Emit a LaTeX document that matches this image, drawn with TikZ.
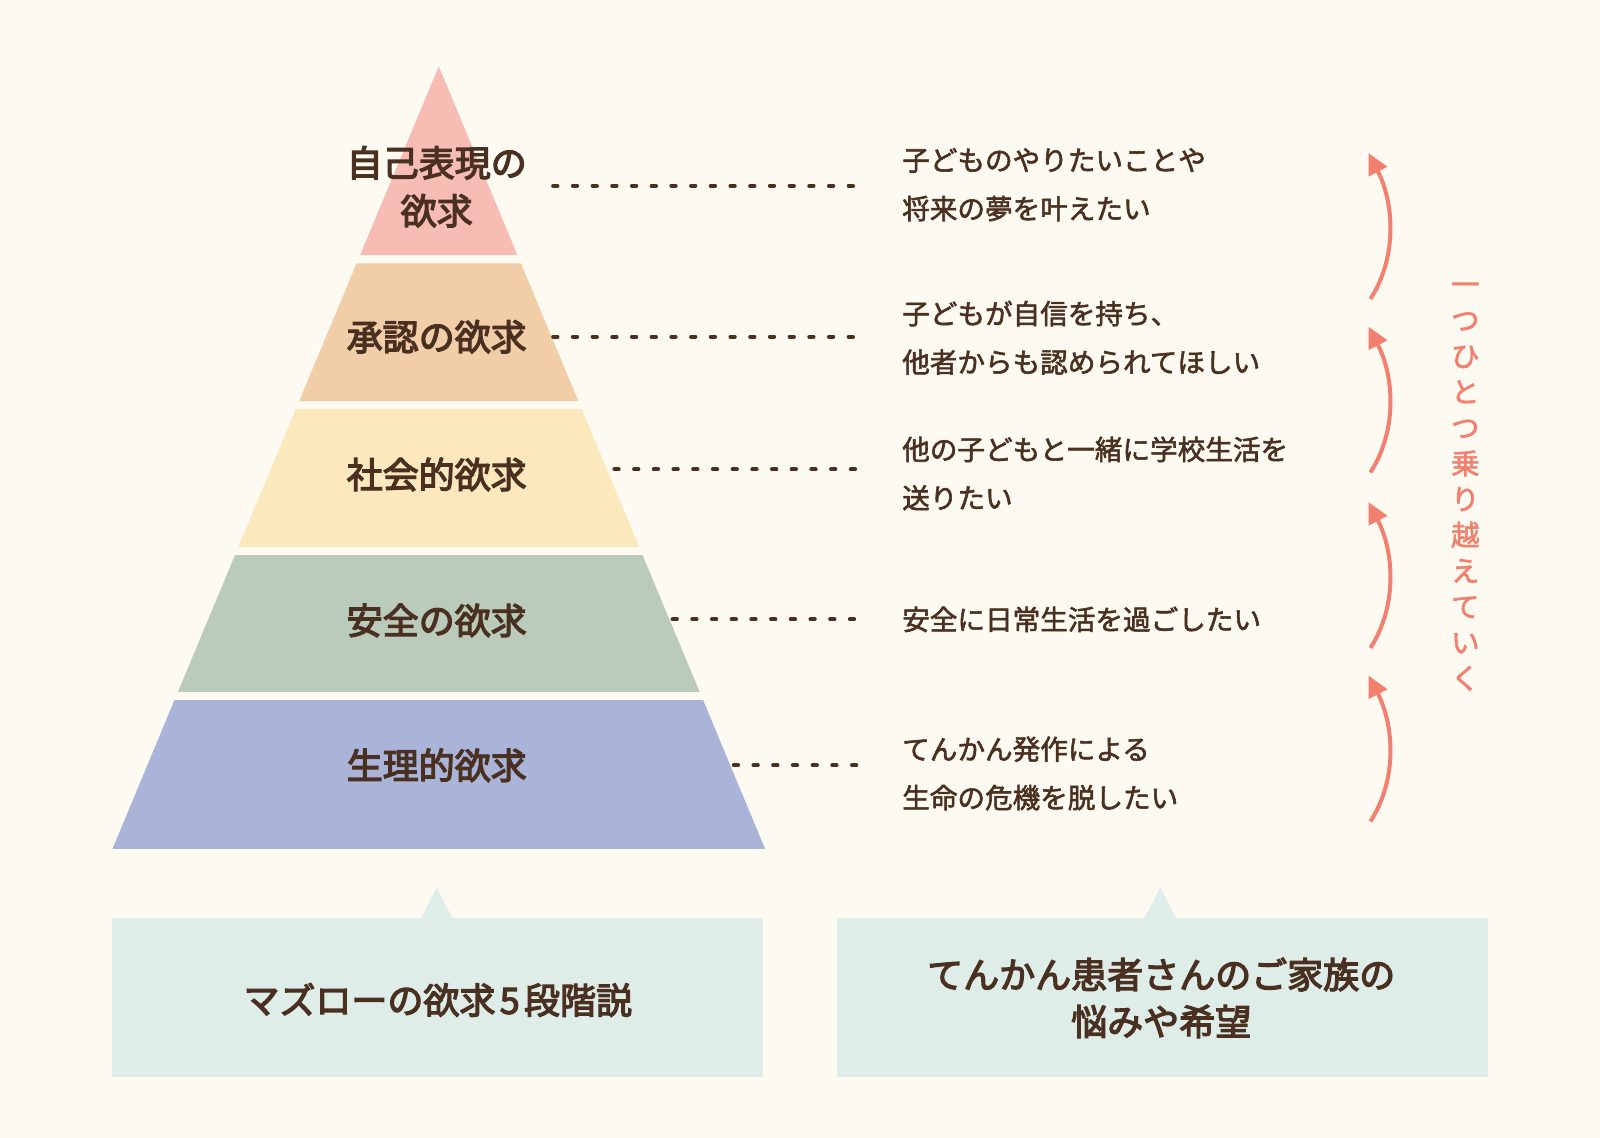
\documentclass[tikz,border=0pt]{standalone}
\usepackage{fontspec}
\setmainfont{Noto Sans CJK JP}
\newfontfamily\jpmed[FakeBold=2]{Noto Sans CJK JP}
\newfontfamily\jpbold[FakeBold=3.5]{Noto Sans CJK JP}
\usetikzlibrary{arrows.meta,calc}
\definecolor{bgc}{HTML}{FDFAF1}
\definecolor{t1c}{HTML}{F7BCB4}
\definecolor{t2c}{HTML}{F2CEA8}
\definecolor{t3c}{HTML}{FBE8BC}
\definecolor{t4c}{HTML}{BACBBB}
\definecolor{t5c}{HTML}{A9B4D8}
\definecolor{boxc}{HTML}{DFEDE9}
\definecolor{txtc}{HTML}{4A3020}
\definecolor{salc}{HTML}{F3806F}
\tikzset{
  lab/.style={text=txtc,inner sep=0pt,align=center,font=\jpbold\fontsize{36}{48}\selectfont},
  rtxt/.style={text=txtc,inner sep=0pt,align=left,anchor=west,font=\jpmed\fontsize{27.6}{48.5}\selectfont},
  dots/.style={draw=txtc,line width=3.8pt,line cap=round,dash pattern=on 4.5pt off 15.2pt},
  upar/.style={draw=salc,line width=4pt,-{Triangle[length=21pt,width=20pt]}},
  boxtxt/.style={text=txtc,inner sep=0pt,align=center,font=\jpbold\fontsize{36}{47}\selectfont},
}
\begin{document}
\begin{tikzpicture}[x=1.0204pt,y=-1.0204pt]
\fill[bgc] (0,0) rectangle (1568,1115.2);
\useasboundingbox (0,0) rectangle (1568,1115.2);
% pyramid tiers
\fill[t1c] (430,65) -- (507.1,250) -- (352.9,250) -- cycle;
\fill[t2c] (349.5,258) -- (510.5,258) -- (566.8,393) -- (293.2,393) -- cycle;
\fill[t3c] (289.9,401) -- (570.1,401) -- (626.4,536) -- (233.6,536) -- cycle;
\fill[t4c] (230.3,544) -- (629.7,544) -- (685.6,678) -- (174.4,678) -- cycle;
\fill[t5c] (171,686) -- (689,686) -- (749.8,832) -- (110.2,832) -- cycle;
% labels
\node[lab] (l1) at (428,183) {自己表現の\\欲求};
\node[lab] (l2) at (428,330) {承認の欲求};
\node[lab] (l3) at (428,465) {社会的欲求};
\node[lab] (l4) at (428,608) {安全の欲求};
\node[lab] (l5) at (428,750) {生理的欲求};
% right texts
\node[rtxt] (r1) at (884,181) {子どものやりたいことや\\将来の夢を叶えたい};
\node[rtxt] (r2) at (884,331) {子どもが自信を持ち、\\他者からも認められてほしい};
\node[rtxt] (r3) at (884,464) {他の子どもと一緒に学校生活を\\送りたい};
\node[rtxt] (r4) at (884,607) {安全に日常生活を過ごしたい};
\node[rtxt] (r5) at (884,758) {てんかん発作による\\生命の危機を脱したい};
% dotted connectors
\coordinate (d1) at (542,182);
\coordinate (d2) at (542,330);
\coordinate (d3) at (602,460);
\coordinate (d4) at (659,607);
\coordinate (d5) at (719,750);
\foreach \i in {1,...,5}{
  \draw[dots] (d\i) -- ($(d\i -| r\i.west)+(-36,0)$);
}
% arrows
\coordinate (a1s) at (1343,293); \coordinate (a1e) at (1341,150);
\coordinate (a2s) at (1343,463); \coordinate (a2e) at (1341,320);
\coordinate (a3s) at (1343,635); \coordinate (a3e) at (1341,492);
\coordinate (a4s) at (1343,805); \coordinate (a4e) at (1341,662);
\foreach \i in {1,...,4}{
  \draw[upar] (a\i s) .. controls +(27,-42) and +(25,48) .. (a\i e);
}
% vertical text
\node[text=salc,inner sep=0pt,align=center,font=\jpmed\fontsize{28.5}{35.8}\selectfont] (vt) at (1436,477)
  {一\\つ\\ひ\\と\\つ\\乗\\り\\越\\え\\て\\い\\く};
% bottom boxes
\fill[boxc] (412,901) -- (428,870) -- (444,901) -- cycle;
\fill[boxc] (1121,901) -- (1137,870) -- (1153,901) -- cycle;
\fill[boxc] (110,900) rectangle (748,1055);
\fill[boxc] (820,900) rectangle (1458,1055);
\node[boxtxt] (b1) at (429,980) {マズローの欲求\hspace{0.12em}5\hspace{0.12em}段階説};
\node[boxtxt] (b2) at (1138,978) {てんかん患者さんのご家族の\\悩みや希望};
\end{tikzpicture}
\end{document}
